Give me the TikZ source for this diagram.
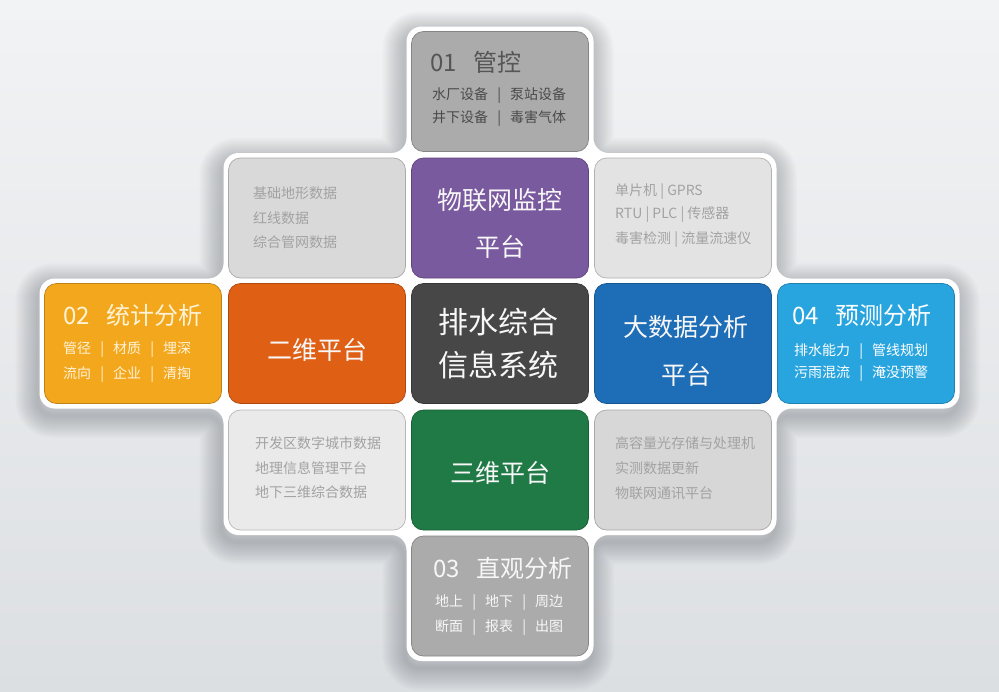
\documentclass[tikz,border=0pt]{standalone}
\usepackage{fontspec}
\setmainfont{Noto Sans CJK SC}
\definecolor{bgtop}{HTML}{F2F3F5}
\definecolor{bgbot}{HTML}{DCDFE2}
\definecolor{gtile}{HTML}{ABABAB}
\definecolor{gtl}{HTML}{D9D9D9}
\definecolor{gtr}{HTML}{E3E3E3}
\definecolor{gbl}{HTML}{EAEAEA}
\definecolor{gbr}{HTML}{D7D7D7}
\definecolor{cpurple}{HTML}{7A5A9E}
\definecolor{corange}{HTML}{DF5F14}
\definecolor{cyellow}{HTML}{F3A71D}
\definecolor{cdark}{HTML}{474747}
\definecolor{cblue}{HTML}{1E6DB7}
\definecolor{clblue}{HTML}{28A5DF}
\definecolor{cgreen}{HTML}{1F7A46}
\definecolor{tdark}{HTML}{555555}
\definecolor{tsub}{HTML}{4A4A4A}
\definecolor{tcorner}{HTML}{A2A2A2}
\definecolor{tcream}{HTML}{FFF3D8}
\definecolor{twhite}{HTML}{F7F7F7}
\definecolor{shadowc}{HTML}{3A4048}
\newcommand\sbar{\hspace{0.65em}|\hspace{0.65em}}
\newcommand\fsz[1]{\fontsize{#1}{#1}\selectfont}
\begin{document}
\begin{tikzpicture}[x=1pt,y=-1pt,
  tile/.style={rounded corners=12pt, minimum width=177pt, minimum height=120pt,
    inner sep=0pt, draw=#1!78!black, fill=#1, line width=0.7pt},
  txt/.style={anchor=west, inner sep=0pt},
  big/.style={inner sep=0pt, text=twhite, font=\fsz{25}},
  crosspath/.style={rounded corners=15pt, insert path={
  (406.5,26.5) -- (593.5,26.5) -- (593.5,153) -- (776.5,153) -- (776.5,278.5)
  -- (959.5,278.5) -- (959.5,408.5) -- (776.5,408.5) -- (776.5,535) -- (593.5,535)
  -- (593.5,661) -- (406.5,661) -- (406.5,535) -- (223.5,535) -- (223.5,408.5)
  -- (39.5,408.5) -- (39.5,278.5) -- (223.5,278.5) -- (223.5,153) -- (406.5,153) -- cycle}}
]
\fill[top color=bgtop, bottom color=bgbot] (0,0) rectangle (999,691);
\useasboundingbox (0,0) rectangle (999,691);
% soft shadow, built from layered strokes
\begin{scope}[shift={(-2,7)}]
\foreach \w in {44,40,...,4}
  \draw[shadowc, opacity=0.028, line width=\w pt, line join=round, crosspath];
\end{scope}
% white cross backing
\fill[white, crosspath];
% tiles
\node[tile=gtile]   (top) at (500,91.5) {};
\node[tile=gtl]     (tl)  at (317,218) {};
\node[tile=cpurple] (pur) at (500,218) {};
\node[tile=gtr]     (tr)  at (683,218) {};
\node[tile=cyellow] (yel) at (133,343.5) {};
\node[tile=corange] (ora) at (317,343.5) {};
\node[tile=cdark]   (cen) at (500,343.5) {};
\node[tile=cblue]   (blu) at (683,343.5) {};
\node[tile=clblue]  (lbl) at (866,343.5) {};
\node[tile=gbl]     (bl)  at (317,470) {};
\node[tile=cgreen]  (grn) at (500,470) {};
\node[tile=gbr]     (br)  at (683,470) {};
\node[tile=gtile]   (bot) at (500,596) {};
% top box
\node[txt, text=tdark, font=\fsz{24}] (topA) at (430,62) {01\hspace{0.7em}管控};
\node[txt, text=tsub, font=\fsz{14}] (topB) at (432,96) {水厂设备\sbar 泵站设备};
\node[txt, text=tsub, font=\fsz{14}] (topC) at (432,119) {井下设备\sbar 毒害气体};
% yellow box
\node[txt, text=tcream, font=\fsz{24}] (yelA) at (63,315) {02\hspace{0.7em}统计分析};
\node[txt, text=tcream, font=\fsz{14}] (yelB) at (63,350) {管径\sbar 材质\sbar 埋深};
\node[txt, text=tcream, font=\fsz{14}] (yelC) at (63,375) {流向\sbar 企业\sbar 清掏};
% light blue box
\node[txt, text=white, font=\fsz{24}] (lblA) at (792,315) {04\hspace{0.7em}预测分析};
\node[txt, text=white, font=\fsz{14}] (lblB) at (794,352) {排水能力\sbar 管线规划};
\node[txt, text=white, font=\fsz{14}] (lblC) at (794,374) {污雨混流\sbar 淹没预警};
% bottom box
\node[txt, text=twhite, font=\fsz{24}] (botA) at (433,568) {03\hspace{0.7em}直观分析};
\node[txt, text=twhite, font=\fsz{14}] (botB) at (435,603) {地上\sbar 地下\sbar 周边};
\node[txt, text=twhite, font=\fsz{14}] (botC) at (435,628) {断面\sbar 报表\sbar 出图};
% corner boxes
\node[txt, text=tcorner, font=\fsz{14}] (tlA) at (253,193) {基础地形数据};
\node[txt, text=tcorner, font=\fsz{14}] (tlB) at (253,218) {红线数据};
\node[txt, text=tcorner, font=\fsz{14}] (tlC) at (253,242) {综合管网数据};
\node[txt, text=tcorner, font=\fsz{14}] (trA) at (615,192) {单片机 | GPRS};
\node[txt, text=tcorner, font=\fsz{14}] (trB) at (615,215) {RTU | PLC | 传感器};
\node[txt, text=tcorner, font=\fsz{14}] (trC) at (615,240) {毒害检测 | 流量流速仪};
\node[txt, text=tcorner, font=\fsz{14}] (blA) at (255,443) {开发区数字城市数据};
\node[txt, text=tcorner, font=\fsz{14}] (blB) at (255,468) {地理信息管理平台};
\node[txt, text=tcorner, font=\fsz{14}] (blC) at (255,492) {地下三维综合数据};
\node[txt, text=tcorner, font=\fsz{14}] (brA) at (615,443) {高容量光存储与处理机};
\node[txt, text=tcorner, font=\fsz{14}] (brB) at (615,468) {实测数据更新};
\node[txt, text=tcorner, font=\fsz{14}] (brC) at (615,493) {物联网通讯平台};
% big labels
\node[big] (purA) at (500,200) {物联网监控};
\node[big] (purB) at (500,247) {平台};
\node[big] (oraA) at (317,350) {二维平台};
\node[big, font=\fsz{30}] (cenA) at (498,322) {排水综合};
\node[big, font=\fsz{30}] (cenB) at (498,365) {信息系统};
\node[big] (bluA) at (686,327) {大数据分析};
\node[big] (bluB) at (686,375) {平台};
\node[big] (grnA) at (500,473) {三维平台};
\end{tikzpicture}
\end{document}
